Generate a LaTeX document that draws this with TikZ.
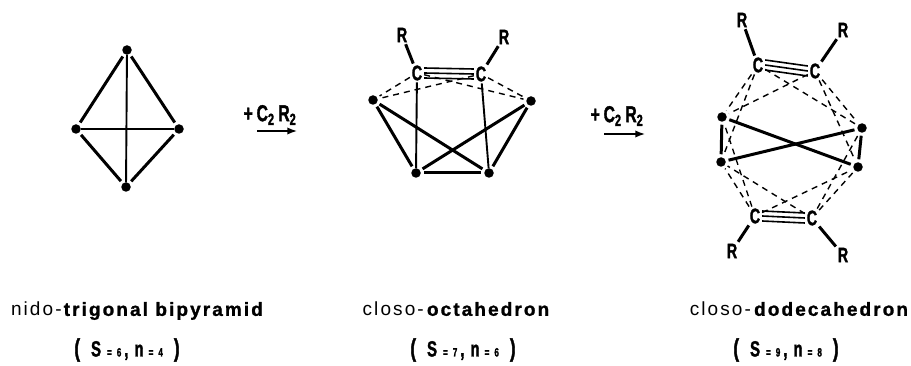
\documentclass[tikz,border=0pt]{standalone}
\usepackage{fontspec}
\setmainfont{Liberation Sans}
\newfontfamily\spacedfont[LetterSpace=11,BoldFeatures={FakeBold=1.2}]{Liberation Sans}
\newfontfamily\narrowfont[FakeStretch=0.68,BoldFeatures={FakeBold=1.5}]{Liberation Sans}
\newcommand{\cntlabel}[2]{{\fontsize{25}{25}\selectfont(}\hspace{11pt}S\hspace{6pt}{\fontsize{12}{12}\selectfont=\hspace{5pt}#1}\hspace{3pt},\hspace{6pt}n\hspace{5pt}{\fontsize{12}{12}\selectfont=\hspace{5pt}#2}\hspace{11pt}{\fontsize{25}{25}\selectfont)}}
\usetikzlibrary{arrows.meta}

\begin{document}
\begin{tikzpicture}[
    x=1pt, y=-1pt,
    >=Latex,
    vtx/.style={circle, fill=black, inner sep=0pt, minimum size=9.5pt, outer sep=3pt},
    atom/.style={font=\narrowfont\fontsize{21}{21}\selectfont\bfseries, inner sep=0pt, outer sep=2pt},
    bond/.style={line width=3pt},
    thin bond/.style={line width=1.9pt, shorten <=-3pt, shorten >=-3pt},
    dash bond/.style={line width=1.4pt, dash pattern=on 6pt off 5pt},
    trip/.style={line width=1.6pt},
    arr/.style={->, line width=1.5pt},
    rgt/.style={font=\narrowfont\fontsize{23}{23}\selectfont\bfseries},
    shp/.style={font=\spacedfont\fontsize{19}{22}\selectfont},
    cnt/.style={font=\narrowfont\fontsize{22}{26}\selectfont\bfseries, inner sep=1pt},
]
\useasboundingbox (0,0) rectangle (911,366);

% =============================================
% LEFT: trigonal bipyramid
% =============================================
\node[vtx] (aT) at (127,50) {};
\node[vtx] (aL) at (76,129) {};
\node[vtx] (aR) at (179,129) {};
\node[vtx] (aB) at (126,187) {};

\draw[bond] (aT) -- (aL);
\draw[bond] (aT) -- (aR);
\draw[bond] (aB) -- (aL);
\draw[bond] (aB) -- (aR);
\draw[thin bond] (aT) -- (aB);
\draw[thin bond] (aL) -- (aR);

% =============================================
% FIRST STEP
% =============================================
\coordinate (stepAs) at (257,131);
\coordinate (stepAe) at (297,131);
\draw[arr] (stepAs) -- (stepAe);
\node[rgt] (stepA) at (270,115) {+\,C\textsubscript{2}\,R\textsubscript{2}};

% =============================================
% MIDDLE: octahedron
% =============================================
\node[atom] (bC) at (417,73) {C};
\node[atom] (bD) at (481,74) {C};
\node[atom] (bRl) at (402,35) {R};
\node[atom] (bRr) at (504,37) {R};
\node[vtx] (bL) at (373,100) {};
\node[vtx] (bR) at (531,101) {};
\node[vtx] (bBl) at (416,173) {};
\node[vtx] (bBr) at (489,173) {};

\draw[bond] (bC) -- (bRl);
\draw[bond] (bD) -- (bRr);
\foreach \off in {-5,0,5}
    \draw[trip] ([yshift=\off pt]bC.east) -- ([yshift=\off pt]bD.west);

\draw[bond] (bL) -- (bBl);
\draw[bond] (bL) -- (bBr);
\draw[bond] (bR) -- (bBl);
\draw[bond] (bR) -- (bBr);
\draw[bond] (bBl) -- (bBr);
\draw[thin bond, shorten <=0pt] (bC) -- (bBl);
\draw[thin bond, shorten <=0pt] (bD) -- (bBr);

\draw[dash bond] (bC) -- (bL);
\draw[dash bond] (bC) -- (bR);
\draw[dash bond] (bD) -- (bL);
\draw[dash bond] (bD) -- (bR);

% =============================================
% SECOND STEP
% =============================================
\coordinate (stepBs) at (604,134);
\coordinate (stepBe) at (645,134);
\draw[arr] (stepBs) -- (stepBe);
\node[rgt] (stepB) at (617,116) {+\,C\textsubscript{2}\,R\textsubscript{2}};

% =============================================
% RIGHT: dodecahedron
% =============================================
\node[atom] (cC) at (758,65) {C};
\node[atom] (cD) at (815,71) {C};
\node[atom] (cRl) at (742,20) {R};
\node[atom] (cRr) at (843,30) {R};
\node[vtx] (cLt) at (722,117) {};
\node[vtx] (cRt) at (862,128) {};
\node[vtx] (cLb) at (721,162) {};
\node[vtx] (cRb) at (858,167) {};
\node[atom] (cE) at (755,216) {C};
\node[atom] (cF) at (812,218) {C};
\node[atom] (cRbl) at (732,251) {R};
\node[atom] (cRbr) at (843,255) {R};

\draw[bond] (cC) -- (cRl);
\draw[bond] (cD) -- (cRr);
\draw[bond] (cE) -- (cRbl);
\draw[bond] (cF) -- (cRbr);
\foreach \off in {-5,0,5} {
    \draw[trip] ([yshift=\off pt]cC.east) -- ([yshift=\off pt]cD.west);
    \draw[trip] ([yshift=\off pt]cE.east) -- ([yshift=\off pt]cF.west);
}

\draw[bond] (cLt) -- (cLb);
\draw[bond] (cRt) -- (cRb);
\draw[bond] (cLt) -- (cRb);
\draw[bond] (cLb) -- (cRt);

\foreach \a/\b in {cC/cLt, cC/cLb, cC/cRt, cD/cLt, cD/cRt, cD/cRb,
                   cE/cLt, cE/cLb, cE/cRb, cF/cLb, cF/cRt, cF/cRb}
    \draw[dash bond] (\a) -- (\b);

% =============================================
% CAPTIONS
% =============================================
\node[shp] (capA) at (138,311) {nido-\textbf{trigonal bipyramid}};
\node[shp] (capB) at (457,309) {closo-\,\textbf{octahedron}};
\node[shp] (capC) at (800,309) {closo-\,\textbf{dodecahedron}};
\node[cnt] (cntA) at (127,350) {\cntlabel{6}{4}};
\node[cnt] (cntB) at (463,350) {\cntlabel{7}{6}};
\node[cnt] (cntC) at (786,350) {\cntlabel{9}{8}};

\end{tikzpicture}
\end{document}
